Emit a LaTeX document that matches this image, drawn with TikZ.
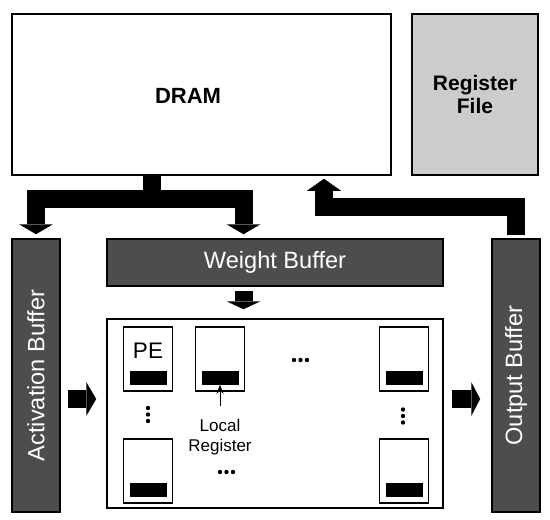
\documentclass[tikz,border=0pt]{standalone}
\usepackage{fontspec}
\setmainfont{Liberation Sans}
\usepackage{graphicx}
\usetikzlibrary{arrows.meta,positioning,calc}
\definecolor{bufgray}{RGB}{77,77,77}
\definecolor{rfgray}{RGB}{204,204,204}

\begin{document}
\begin{tikzpicture}[x=1pt, y=-1pt,
  mem/.style={draw, line width=1.5pt, inner sep=0pt, align=center},
  buf/.style={draw, line width=1.5pt, fill=bufgray, text=white, inner sep=0pt, font=\fontsize{23.6}{28}\selectfont},
  pe/.style={draw, line width=1.5pt, fill=white, minimum width=49pt, minimum height=64pt, inner sep=0pt},
  reg/.style={fill=black, minimum width=37pt, minimum height=14pt, inner sep=0pt},
  fat/.style={line width=18pt, line join=miter},
  blockhead/.style={-{Triangle[length=#1pt, width=34pt, line width=0pt]}},
  arr/.style={-{Stealth[length=9pt, width=7pt]}, line width=1pt}]
\useasboundingbox (0,0) rectangle (550,520);
% memories
\node[mem, minimum width=379pt, minimum height=161pt] (dram) at (201.5,94.5) {};
\node[font=\bfseries\fontsize{22}{26}\selectfont, inner sep=0pt] (dramlabel) at (188,95.5) {DRAM};
\node[mem, fill=rfgray, minimum width=126pt, minimum height=161pt,
  font=\bfseries\fontsize{21}{23.5}\selectfont] (rf) at (475,94.5) {Register\\File};
% buffers
\node[buf, minimum width=48pt, minimum height=273pt] (act) at (36,375.5) {\rotatebox{90}{Activation Buffer}};
\node[buf, minimum width=336pt, minimum height=47pt] (wb) at (275,262.5) {Weight Buffer};
\node[buf, minimum width=48pt, minimum height=273pt] (ob) at (516,375.5) {\rotatebox{90}{Output Buffer}};
% PE array
\node[draw, line width=1.5pt, minimum width=336pt, minimum height=189pt] (pea) at (275,413.5) {};
\foreach \n/\x/\y in {1/148/359, 2/220/359, 3/148/471, 4/404/359, 5/404/471}{
  \node[pe] (pe\n) at (\x,\y) {};
  \node[reg, anchor=south] (reg\n) at ([yshift=7pt]pe\n.south) {};
}
\node[font=\fontsize{22.5}{27}\selectfont, inner sep=0pt] (pelabel) at (148,350.5) {PE};
\node[font=\fontsize{17}{20}\selectfont, inner sep=0pt, align=center] (lr) at (220,437.5) {Local\\Register};
\draw[arr, shorten <=13pt] (lr.north) -- (reg2.south);
% dots
\foreach \p in {(148,408),(148,414.5),(148,421),(403,409.5),(403,416),(403,422.5),
  (294,360),(300.5,360),(307,360),(220,472),(226.5,472),(233,472)}
  \fill \p circle (2.2);
% data movement
\coordinate (split) at (151.5,199);
\coordinate (obturn) at (324,206.5);
\coordinate (actout) at ([yshift=-23.5pt]act.east);
\draw[fat, blockhead=10, shorten >=4pt] (split |- dram.south) -- (split) -| (act.north);
\draw[fat, blockhead=10, shorten >=4pt] (split |- dram.south) -- (split) -| ([xshift=-31.5pt]wb.north);
\draw[fat, blockhead=12, shorten <=3pt, shorten >=3pt] (ob.north) |- (obturn) -- (obturn |- dram.south);
\draw[fat, blockhead=8, shorten <=4pt, shorten >=9pt] ([xshift=-31.5pt]wb.south) -- ([xshift=-31.5pt]pea.north);
\draw[fat, blockhead=10, shorten <=7pt, shorten >=10pt] (actout) -- (actout -| pea.west);
\draw[fat, blockhead=9, shorten <=8pt, shorten >=11pt] (actout -| pea.east) -- (actout -| ob.west);
\end{tikzpicture}
\end{document}
